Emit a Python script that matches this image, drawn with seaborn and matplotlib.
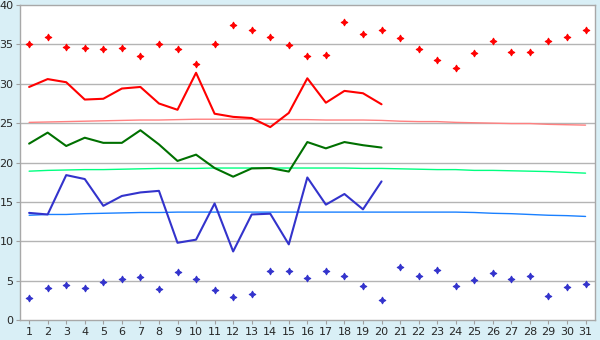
import numpy as np
import pandas as pd
import matplotlib.pyplot as plt
import seaborn as sns

days = list(range(1, 32))
days20 = list(range(1, 21))

# daily values
red_pts = [35.0, 36.0, 34.7, 34.5, 34.4, 34.5, 33.5, 35.0, 34.4, 32.5,
           35.0, 37.5, 36.8, 35.9, 34.9, 33.5, 33.6, 37.8, 36.3, 36.8,
           35.8, 34.4, 33.0, 32.0, 33.9, 35.4, 34.0, 34.0, 35.4, 35.9, 36.8]
red_line = [29.6, 30.6, 30.2, 28.0, 28.1, 29.4, 29.6, 27.5, 26.7, 31.4,
            26.2, 25.8, 25.65, 24.5, 26.3, 30.7, 27.6, 29.1, 28.8, 27.4]
green_line = [22.4, 23.8, 22.1, 23.15, 22.5, 22.5, 24.1, 22.3, 20.2, 21.0,
              19.3, 18.2, 19.25, 19.3, 18.85, 22.6, 21.8, 22.6, 22.2, 21.9]
blue_line = [13.6, 13.4, 18.4, 17.9, 14.5, 15.75, 16.2, 16.4, 9.8, 10.2,
             14.8, 8.7, 13.4, 13.5, 9.6, 18.1, 14.65, 16.0, 14.05, 17.6]
blue_pts = [2.75, 4.0, 4.5, 4.0, 4.8, 5.15, 5.4, 3.9, 6.05, 5.2,
            3.8, 2.9, 3.25, 6.2, 6.2, 5.3, 6.2, 5.55, 4.3, 2.5,
            6.7, 5.55, 6.3, 4.3, 5.05, 5.95, 5.15, 5.55, 3.0, 4.15, 4.55]

# trend curves
red_trend = [25.1, 25.15, 25.2, 25.25, 25.3, 25.35, 25.4, 25.4, 25.45, 25.5,
             25.5, 25.5, 25.5, 25.5, 25.45, 25.45, 25.4, 25.4, 25.4, 25.35,
             25.25, 25.2, 25.2, 25.1, 25.05, 25.0, 24.95, 24.95, 24.85, 24.8, 24.75]
green_trend = [18.9, 19.0, 19.05, 19.1, 19.1, 19.15, 19.2, 19.25, 19.25, 19.25,
               19.3, 19.3, 19.3, 19.3, 19.3, 19.3, 19.3, 19.3, 19.25, 19.25,
               19.2, 19.15, 19.1, 19.1, 19.0, 19.0, 18.95, 18.9, 18.85, 18.75, 18.65]
blue_trend = [13.3, 13.4, 13.4, 13.5, 13.55, 13.6, 13.65, 13.65, 13.7, 13.7,
              13.7, 13.7, 13.7, 13.7, 13.7, 13.7, 13.7, 13.7, 13.7, 13.7,
              13.7, 13.7, 13.7, 13.7, 13.65, 13.55, 13.5, 13.4, 13.3, 13.25, 13.15]

sns.set_style("white")
plt.rcParams['font.family'] = ['DejaVu Sans']

fig = plt.figure(figsize=(6, 3.4), dpi=100)
fig.patch.set_facecolor('#d9eff6')
ax = fig.add_axes([0.034, 0.059, 0.958, 0.926])
ax.set_facecolor('white')

for y in range(5, 40, 5):
    ax.axhline(y, color='#b4b4b4', lw=1, zorder=0)

sns.lineplot(x=days, y=red_trend, color='#ff8080', lw=1, ax=ax)
sns.lineplot(x=days, y=green_trend, color='#00ff80', lw=1, ax=ax)
sns.lineplot(x=days, y=blue_trend, color='#1a80ff', lw=1, ax=ax)

sns.lineplot(x=days20, y=red_line, color='#ff0000', lw=1.5, ax=ax)
sns.lineplot(x=days20, y=green_line, color='#007000', lw=1.5, ax=ax)
sns.lineplot(x=days20, y=blue_line, color='#3333cc', lw=1.5, ax=ax)

star = (4, 1, 0)
sns.scatterplot(x=days, y=red_pts, color='#ff0000', marker=star, s=22,
                linewidth=0.8, edgecolor='#ff0000', ax=ax)
sns.scatterplot(x=days, y=blue_pts, color='#3333cc', marker=star, s=22,
                linewidth=0.8, edgecolor='#3333cc', ax=ax)

ax.set_xlim(0.53, 31.52)
ax.set_ylim(0, 40)
ax.set_xticks(days)
ax.set_yticks(range(0, 41, 5))
ax.tick_params(axis='both', labelsize=8, length=3, color='#a0a0a0', pad=2,
               bottom=True, left=True)
for s in ax.spines.values():
    s.set_color('#a8a8a8')
    s.set_linewidth(1)

fig.savefig('out.png', dpi=100, facecolor=fig.get_facecolor())
